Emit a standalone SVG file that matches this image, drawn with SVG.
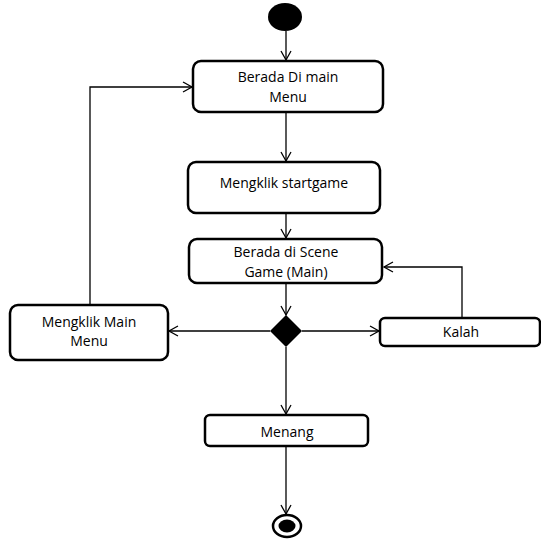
<svg xmlns="http://www.w3.org/2000/svg" width="541" height="541" viewBox="0 0 541 541">
<style>
.box{fill:#fff;stroke:#000;stroke-width:2.5}
.t{font-family:"Open Sans","Liberation Sans",Arial,sans-serif;font-size:14px;fill:#000;text-anchor:middle}
.c{fill:none;stroke:#000;stroke-width:1.3}
</style>
<defs>
<marker id="a" markerWidth="12" markerHeight="12" refX="10" refY="6" orient="auto" markerUnits="userSpaceOnUse">
<path d="M1,1 L10,6 L1,11" fill="none" stroke="#000" stroke-width="1.3"/>
</marker>
</defs>
<g id="connectors">
<path class="c" d="M286,31 V60" marker-end="url(#a)"/>
<path class="c" d="M286,112 V161" marker-end="url(#a)"/>
<path class="c" d="M286,213 V238" marker-end="url(#a)"/>
<path class="c" d="M286,283 V315" marker-end="url(#a)"/>
<path class="c" d="M270,331 H169" marker-end="url(#a)"/>
<path class="c" d="M302,331 H379" marker-end="url(#a)"/>
<path class="c" d="M462,318 V267 H384" marker-end="url(#a)"/>
<path class="c" d="M90,305 V87 H192" marker-end="url(#a)"/>
<path class="c" d="M286,347 V414" marker-end="url(#a)"/>
<path class="c" d="M286,447 V514" marker-end="url(#a)"/>
</g>
<g id="start"><ellipse cx="285" cy="17" rx="17" ry="14" fill="#000"/></g>
<g id="n1"><rect class="box" x="193" y="61" width="190" height="51" rx="8"/><text class="t" x="288" y="82">Berada Di main</text><text class="t" x="288" y="102">Menu</text></g>
<g id="n2"><rect class="box" x="188" y="162" width="192" height="51" rx="8"/><text class="t" x="284" y="188">Mengklik startgame</text></g>
<g id="n3"><rect class="box" x="189" y="239" width="193" height="44" rx="8"/><text class="t" x="286" y="257">Berada di Scene</text><text class="t" x="286" y="277">Game (Main)</text></g>
<g id="decision"><path d="M286,315 L302,331 L286,347 L270,331 Z" fill="#000"/></g>
<g id="n4"><rect class="box" x="10" y="305" width="158" height="55" rx="8"/><text class="t" x="89" y="327">Mengklik Main</text><text class="t" x="89" y="346">Menu</text></g>
<g id="n5"><rect class="box" x="380" y="318" width="160" height="28" rx="5"/><text class="t" x="461" y="337">Kalah</text></g>
<g id="n6"><rect class="box" x="205" y="415" width="163" height="31" rx="5"/><text class="t" x="287" y="437">Menang</text></g>
<g id="end"><ellipse cx="287" cy="526" rx="14" ry="11" fill="#fff" stroke="#000" stroke-width="2.5"/><ellipse cx="287" cy="526" rx="8.5" ry="6.5" fill="#000"/></g>
</svg>
